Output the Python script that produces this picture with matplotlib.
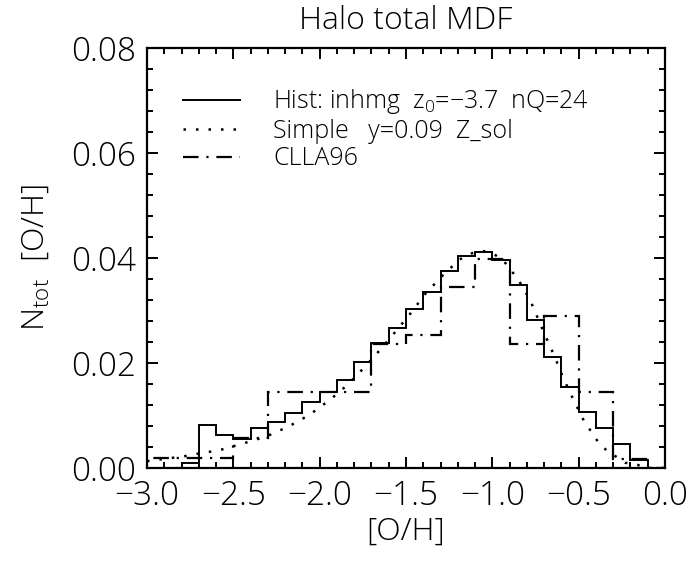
import numpy as np
import matplotlib
matplotlib.use("Agg")
import matplotlib.pyplot as plt
from matplotlib.lines import Line2D
from matplotlib.ticker import MultipleLocator, FuncFormatter

# --- dane ---
# histogram modelu (inhmg), przedzialy co 0.1
HIST_EDGES = [-2.8, -2.7, -2.6, -2.5, -2.4, -2.3, -2.2, -2.1, -2.0, -1.9,
              -1.8, -1.7, -1.6, -1.5, -1.4, -1.3, -1.2, -1.1, -1.0, -0.9,
              -0.8, -0.7, -0.6, -0.5, -0.4, -0.3, -0.2, -0.1, 0.0]
HIST_VALUES = [0.0010, 0.0082, 0.0063, 0.0055, 0.0077, 0.0087, 0.0104, 0.0126,
               0.0144, 0.0168, 0.0202, 0.0238, 0.0267, 0.0303, 0.0336, 0.0376,
               0.0403, 0.0412, 0.0396, 0.0349, 0.0282, 0.0212, 0.0155, 0.0107,
               0.0076, 0.0045, 0.0015, 0.0]

# CLLA96, przedzialy co 0.2
CLLA_EDGES = [-3.1, -2.9, -2.7, -2.5, -2.3, -2.1, -1.9, -1.7, -1.5, -1.3,
              -1.1, -0.9, -0.7, -0.5, -0.3, -0.1, 0.1]
CLLA_VALUES = [0.0019, 0.0019, 0.0019, 0.0057, 0.0144, 0.0144, 0.0144, 0.0236,
               0.0253, 0.0344, 0.0398, 0.0236, 0.0290, 0.0144, 0.0018, 0.0]

# model prosty (Simple), krzywa
SIMPLE_X = [-3.0, -2.79, -2.71, -2.58, -2.44, -2.31, -2.18, -2.06, -1.94, -1.84,
            -1.74, -1.65, -1.56, -1.47, -1.39, -1.29, -1.19, -1.13, -1.06, -0.995,
            -0.94, -0.85, -0.78, -0.70, -0.64, -0.59, -0.53, -0.47, -0.39, -0.34,
            -0.23, -0.16, -0.10, 0.0]
SIMPLE_Y = [0.0013, 0.0022, 0.0027, 0.0034, 0.0047, 0.0060, 0.0079, 0.0101, 0.0130, 0.0158,
            0.0192, 0.0225, 0.0260, 0.0296, 0.0331, 0.0366, 0.0397, 0.0408, 0.0414, 0.0408,
            0.0397, 0.0359, 0.0319, 0.0257, 0.0213, 0.0172, 0.0130, 0.0090, 0.0051, 0.0034,
            0.0010, 0.0006, 0.0, 0.0]

LABELS = ["Hist: inhmg  z$_{\\rm 0}$=\u22123.7  nQ=24",
          "Simple   y=0.09  Z_sol",
          "CLLA96"]

plt.rcParams['font.family'] = ['Open Sans', 'DejaVu Sans']
plt.rcParams['font.weight'] = 'light'
plt.rcParams['axes.titleweight'] = 'light'
plt.rcParams['axes.labelweight'] = 'light'
plt.rcParams['mathtext.fontset'] = 'custom'
plt.rcParams['mathtext.rm'] = 'Open Sans:light'

DOT = (0, (1, 4))
DASHDOT = (0, (7, 3.5, 1, 3.5))


def fmt_x(v, pos):
    return f"{v:.1f}".replace("-", "\u2212")


def fmt_y(v, pos):
    return f"{v:.2f}".replace("-", "\u2212")


fig = plt.figure(figsize=(6.9, 5.66), dpi=100)
ax = fig.add_axes([147 / 690, 1 - 468 / 566, (665 - 147) / 690, (468 - 48) / 566])

ax.stairs(HIST_VALUES, HIST_EDGES, color='black', linewidth=1.4)
ax.stairs(CLLA_VALUES, CLLA_EDGES, color='black', linewidth=1.6, linestyle=DASHDOT)
ax.plot(SIMPLE_X, SIMPLE_Y, color='black', linewidth=1.8, linestyle=DOT)

ax.set_xlim(-3.0, 0.0)
ax.set_ylim(0.0, 0.08)

ax.xaxis.set_major_locator(MultipleLocator(0.5))
ax.xaxis.set_minor_locator(MultipleLocator(0.1))
ax.yaxis.set_major_locator(MultipleLocator(0.02))
ax.yaxis.set_minor_locator(MultipleLocator(0.004))
ax.xaxis.set_major_formatter(FuncFormatter(fmt_x))
ax.yaxis.set_major_formatter(FuncFormatter(fmt_y))

ax.tick_params(which='both', direction='in', top=True, right=True, width=1.4)
ax.tick_params(which='major', length=8, labelsize=24)
ax.tick_params(which='minor', length=4)
ax.tick_params(axis='x', which='major', pad=8)
ax.tick_params(axis='y', which='major', pad=8)
for sp in ax.spines.values():
    sp.set_linewidth(1.6)

ax.set_title("Halo total MDF", fontsize=23, pad=14)
ax.set_xlabel("[O/H]", fontsize=23, labelpad=2)
ax.set_ylabel("N$_{\\rm tot}$  [O/H]", fontsize=23, labelpad=14)

handles = [Line2D([], [], color='black', linewidth=1.4),
           Line2D([], [], color='black', linewidth=1.8, linestyle=DOT),
           Line2D([], [], color='black', linewidth=1.6, linestyle=DASHDOT)]
ax.legend(handles, LABELS, loc='upper left', bbox_to_anchor=(0.05, 0.93),
          frameon=False, fontsize=18, handlelength=2.3, handletextpad=1.3,
          labelspacing=0.1, borderaxespad=0.0)

fig.savefig("out.png", dpi=100)
